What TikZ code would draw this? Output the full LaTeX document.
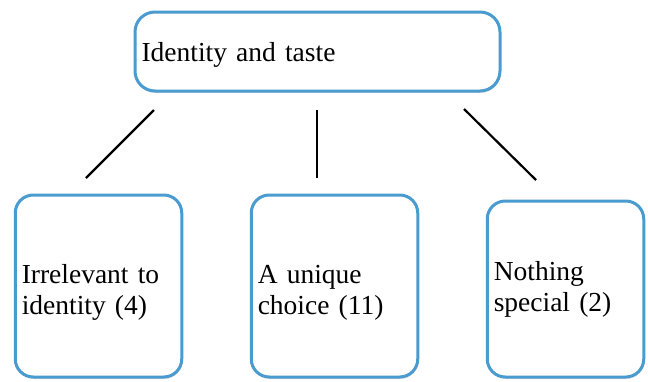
\documentclass[tikz,border=0pt]{standalone}
\usepackage{fontspec}
\setmainfont{Liberation Serif}
\usetikzlibrary{shadows}
\definecolor{boxblue}{RGB}{74,155,208}
\begin{document}
\begin{tikzpicture}[x=1pt,y=-1pt,
  box/.style={draw=boxblue, line width=3pt, fill=white, rounded corners=18pt,
    align=left, inner xsep=6.5pt, inner ysep=0pt,
    font=\fontsize{27.5}{31}\selectfont,
    drop shadow={opacity=0.25, shadow xshift=0.6pt, shadow yshift=-2pt}},
  link/.style={line width=2.2pt, black}]
\useasboundingbox (0,0) rectangle (648,381);
\node[box, text width=352pt, minimum height=79pt, rounded corners=20pt,
  text height=19pt, text depth=0pt] (top) at (317.5,51.5) {Identity and taste};
\node[box, text width=153.5pt, minimum height=182pt,
  text height=20pt, text depth=26pt] (left) at (98.5,286) {Irrelevant to\\identity (4)};
\node[box, text width=153.5pt, minimum height=182pt,
  text height=20pt, text depth=26pt] (mid) at (334.5,286) {A unique\\choice (11)};
\node[box, text width=143.5pt, minimum height=176pt,
  text height=16pt, text depth=34pt] (right) at (565.5,289) {Nothing\\special (2)};
\coordinate (l1) at (154,110);
\coordinate (l2) at (86,178);
\coordinate (m1) at (317,110);
\coordinate (m2) at (317,178);
\coordinate (r1) at (464,109);
\coordinate (r2) at (536,180);
\draw[link] (l1) -- (l2);
\draw[link] (m1) -- (m2);
\draw[link] (r1) -- (r2);
\end{tikzpicture}
\end{document}
